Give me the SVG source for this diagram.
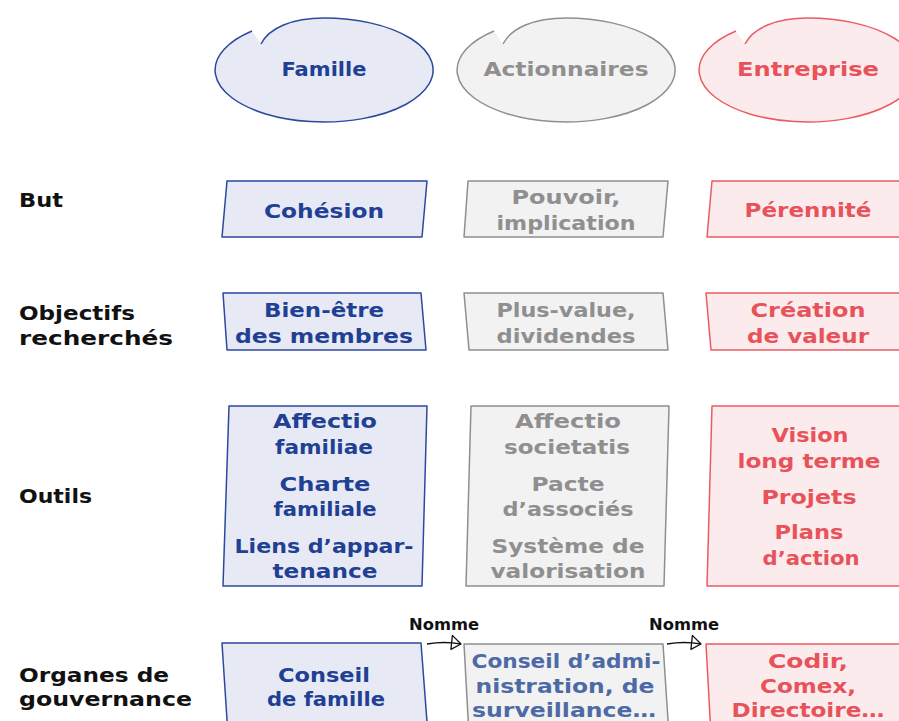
<svg xmlns="http://www.w3.org/2000/svg" width="899" height="721" viewBox="0 0 899 721">
<style>
text{font-family:"DejaVu Sans","Liberation Sans",sans-serif;font-weight:bold;font-size:20px;text-anchor:middle}
.lbl{text-anchor:start;fill:#111}
.b use,.b polygon{fill:#e7eaf5;stroke:#2b4a9e;stroke-width:1.5;stroke-linejoin:round}
.g use,.g polygon{fill:#f2f2f2;stroke:#8f8f8f;stroke-width:1.5;stroke-linejoin:round}
.r use,.r polygon{fill:#fcebec;stroke:#ea5c62;stroke-width:1.5;stroke-linejoin:round}
.b text{fill:#213f93}.g text{fill:#8f8f8f}.r text{fill:#e8525a}
.g text.bl{fill:#4e6aa6}
.nm{font-size:16px;fill:#111}
.con path.ln{fill:none;stroke:#111;stroke-width:1.3}
</style>
<defs>
<path id="bub" d="M-63,-26 C-55,-42 -32,-52 0,-52 A109,52 0 1 1 -72,-39"/>
<marker id="ah" markerUnits="userSpaceOnUse" markerWidth="16" markerHeight="18" refX="13" refY="8" orient="auto" viewBox="0 0 16 18">
<path d="M3,1 L13,8 L4,15 Z" fill="none" stroke="#111" stroke-width="1.3" stroke-linejoin="round"/>
</marker>
</defs>

<g id="labels">
<text class="lbl" x="19" y="207" textLength="44" lengthAdjust="spacingAndGlyphs">But</text>
<text class="lbl" x="19" y="320" textLength="116" lengthAdjust="spacingAndGlyphs">Objectifs</text>
<text class="lbl" x="19" y="345" textLength="154" lengthAdjust="spacingAndGlyphs">recherchés</text>
<text class="lbl" x="19" y="503" textLength="73" lengthAdjust="spacingAndGlyphs">Outils</text>
<text class="lbl" x="19" y="682" textLength="150" lengthAdjust="spacingAndGlyphs">Organes de</text>
<text class="lbl" x="19" y="706" textLength="173" lengthAdjust="spacingAndGlyphs">gouvernance</text>
</g>

<g id="famille" class="b">
<use href="#bub" transform="translate(324,70)"/>
<text x="324" y="76" textLength="85" lengthAdjust="spacingAndGlyphs">Famille</text>
</g>
<g id="actionnaires" class="g">
<use href="#bub" transform="translate(566,70)"/>
<text x="566" y="76" textLength="165" lengthAdjust="spacingAndGlyphs">Actionnaires</text>
</g>
<g id="entreprise" class="r">
<use href="#bub" transform="translate(808,70)"/>
<text x="808" y="76" textLength="142" lengthAdjust="spacingAndGlyphs">Entreprise</text>
</g>

<g id="but-famille" class="b">
<polygon points="227,181 427,181 422,237 222,237"/>
<text x="324" y="218" textLength="120" lengthAdjust="spacingAndGlyphs">Cohésion</text>
</g>
<g id="but-actionnaires" class="g">
<polygon points="468,181 668,181 663,237 464,237"/>
<text x="566" y="204" textLength="109" lengthAdjust="spacingAndGlyphs">Pouvoir,</text>
<text x="566" y="230" textLength="139" lengthAdjust="spacingAndGlyphs">implication</text>
</g>
<g id="but-entreprise" class="r">
<polygon points="712,181 920,181 915,237 707,237"/>
<text x="808" y="217" textLength="127" lengthAdjust="spacingAndGlyphs">Pérennité</text>
</g>

<g id="obj-famille" class="b">
<polygon points="223,293 421,293 426,350 227,350"/>
<text x="324" y="317" textLength="120" lengthAdjust="spacingAndGlyphs">Bien-être</text>
<text x="324" y="343" textLength="178" lengthAdjust="spacingAndGlyphs">des membres</text>
</g>
<g id="obj-actionnaires" class="g">
<polygon points="464,293 663,293 668,350 469,350"/>
<text x="566" y="317" textLength="139" lengthAdjust="spacingAndGlyphs">Plus-value,</text>
<text x="566" y="343" textLength="139" lengthAdjust="spacingAndGlyphs">dividendes</text>
</g>
<g id="obj-entreprise" class="r">
<polygon points="706,293 920,293 925,350 711,350"/>
<text x="808" y="317" textLength="115" lengthAdjust="spacingAndGlyphs">Création</text>
<text x="808" y="343" textLength="122" lengthAdjust="spacingAndGlyphs">de valeur</text>
</g>

<g id="outils-famille" class="b">
<polygon points="229,406 427,406 422,586 223,586"/>
<text x="325" y="428" textLength="104" lengthAdjust="spacingAndGlyphs">Affectio</text>
<text x="324" y="454" textLength="98" lengthAdjust="spacingAndGlyphs">familiae</text>
<text x="325" y="491" textLength="91" lengthAdjust="spacingAndGlyphs">Charte</text>
<text x="325" y="516" textLength="103" lengthAdjust="spacingAndGlyphs">familiale</text>
<text x="324" y="553" textLength="179" lengthAdjust="spacingAndGlyphs">Liens d’appar-</text>
<text x="325" y="578" textLength="105" lengthAdjust="spacingAndGlyphs">tenance</text>
</g>
<g id="outils-actionnaires" class="g">
<polygon points="471,406 669,406 664,586 466,586"/>
<text x="568" y="428" textLength="106" lengthAdjust="spacingAndGlyphs">Affectio</text>
<text x="567" y="454" textLength="126" lengthAdjust="spacingAndGlyphs">societatis</text>
<text x="568" y="491" textLength="73" lengthAdjust="spacingAndGlyphs">Pacte</text>
<text x="568" y="516" textLength="131" lengthAdjust="spacingAndGlyphs">d’associés</text>
<text x="568" y="553" textLength="153" lengthAdjust="spacingAndGlyphs">Système de</text>
<text x="568" y="578" textLength="155" lengthAdjust="spacingAndGlyphs">valorisation</text>
</g>
<g id="outils-entreprise" class="r">
<polygon points="712,406 920,406 915,586 707,586"/>
<text x="810" y="442" textLength="77" lengthAdjust="spacingAndGlyphs">Vision</text>
<text x="809" y="468" textLength="143" lengthAdjust="spacingAndGlyphs">long terme</text>
<text x="809" y="504" textLength="95" lengthAdjust="spacingAndGlyphs">Projets</text>
<text x="809" y="539" textLength="69" lengthAdjust="spacingAndGlyphs">Plans</text>
<text x="811" y="565" textLength="97" lengthAdjust="spacingAndGlyphs">d’action</text>
</g>

<g id="gov-famille" class="b">
<polygon points="222,643 421,643 428,735 228,735"/>
<text x="324" y="682" textLength="92" lengthAdjust="spacingAndGlyphs">Conseil</text>
<text x="326" y="706" textLength="118" lengthAdjust="spacingAndGlyphs">de famille</text>
</g>
<g id="gov-actionnaires" class="g">
<polygon points="464,644 663,644 669,735 469,735"/>
<text class="bl" x="566" y="668" textLength="189" lengthAdjust="spacingAndGlyphs">Conseil d’admi-</text>
<text class="bl" x="565" y="693" textLength="179" lengthAdjust="spacingAndGlyphs">nistration, de</text>
<text class="bl" x="564" y="717" textLength="184" lengthAdjust="spacingAndGlyphs">surveillance…</text>
</g>
<g id="gov-entreprise" class="r">
<polygon points="706,644 920,644 925,735 711,735"/>
<text x="808" y="668" textLength="80" lengthAdjust="spacingAndGlyphs">Codir,</text>
<text x="808" y="693" textLength="96" lengthAdjust="spacingAndGlyphs">Comex,</text>
<text x="808" y="717" textLength="153" lengthAdjust="spacingAndGlyphs">Directoire…</text>
</g>

<g id="connectors" class="con">
<path class="ln" d="M427,644 Q444,641 461,644" marker-end="url(#ah)"/>
<text class="nm" x="444" y="630" textLength="70" lengthAdjust="spacingAndGlyphs">Nomme</text>
<path class="ln" d="M667,644 Q684,641 701,644" marker-end="url(#ah)"/>
<text class="nm" x="684" y="630" textLength="70" lengthAdjust="spacingAndGlyphs">Nomme</text>
</g>
</svg>
